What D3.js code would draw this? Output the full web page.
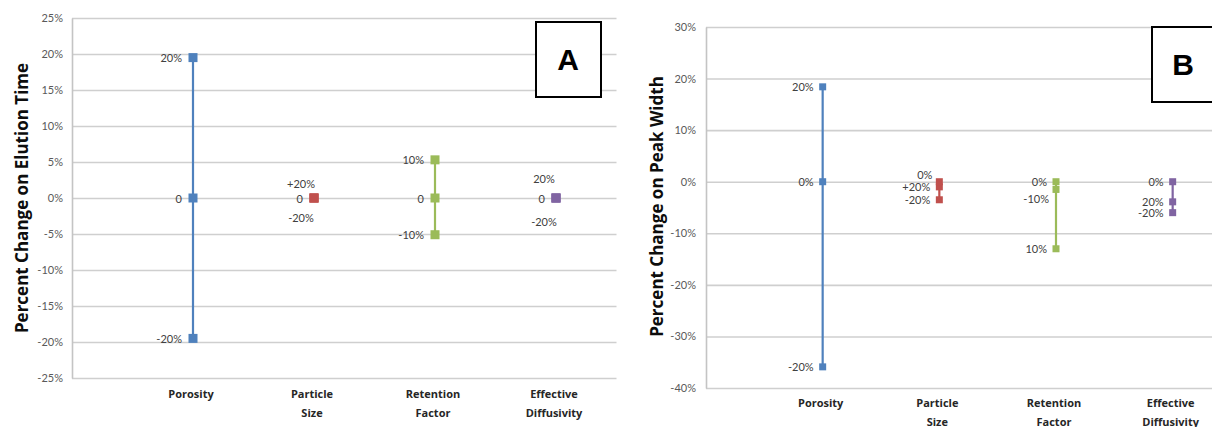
<!DOCTYPE html>
<html>
<head>
<meta charset="utf-8">
<script src="https://cdn.jsdelivr.net/npm/d3@7"></script>
<style>
  body { margin: 0; background: #fff; }
  svg { display: block; }
</style>
</head>
<body>
<svg id="chart" width="1212" height="427"></svg>
<script>
// Factors varied in the sensitivity study (one per x position)
const categoryLines = [["Porosity"], ["Particle", "Size"], ["Retention", "Factor"], ["Effective", "Diffusivity"]];
const seriesColors = ["#4F81BD", "#C0504D", "#9BBB59", "#8064A2"];

// Panel A: percent change on elution time
const elutionTicks = [25, 20, 15, 10, 5, 0, -5, -10, -15, -20, -25];
const elutionValues = [[19.5, 0, -19.5], [0, 0, 0], [5.3, 0, -5.1], [0, 0, 0]];
const elutionLabels = [["20%", "0", "-20%"], ["+20%", "0", "-20%"], ["10%", "0", "-10%"], ["20%", "0", "-20%"]];
const elutionLabelPlacement = [["L", "L", "L"], ["T", "L", "B"], ["L", "L", "L"], ["T2", "L", "B2"]];

// Panel B: percent change on peak width
const widthTicks = [30, 20, 10, 0, -10, -20, -30, -40];
const widthValues = [[18.4, 0, -35.9], [-1.0, 0, -3.5], [-13.0, 0, -1.5], [-3.9, 0, -6.0]];
const widthLabels = [["20%", "0%", "-20%"], ["+20%", "0%", "-20%"], ["10%", "0%", "-10%"], ["20%", "0%", "-20%"]];
const widthLabelPlacement = [["L", "L", "L"], ["L", "LT", "L"], ["L", "L", "LB"], ["L", "L", "L"]];

const svg = d3.select("#chart");
const FONT = "Lato, 'Open Sans', 'Liberation Sans', sans-serif";
const BOLD_FONT = "'Open Sans', 'Liberation Sans', sans-serif";

function drawPanel(cfg) {
  const g = svg.append("g");
  const x = d3.scaleLinear().domain([0, 4.5]).range(cfg.xRange);
  const y = d3.scaleLinear().domain(cfg.yDomain).range(cfg.yRange);
  const plotW = cfg.xRange[1] - cfg.xRange[0];

  // horizontal gridlines
  const grid = g.append("g")
    .attr("transform", `translate(${cfg.xRange[0]},0)`)
    .call(d3.axisLeft(y).tickValues(cfg.ticks).tickSize(-plotW).tickFormat(""));
  grid.select(".domain").remove();
  grid.selectAll("line").attr("stroke", "#cfcfcf").attr("stroke-width", 1.6);

  // value axis with tick labels
  const axis = g.append("g")
    .attr("transform", `translate(${cfg.xRange[0]},0)`)
    .call(d3.axisLeft(y).tickValues(cfg.ticks).tickSize(0).tickPadding(cfg.tickPad).tickFormat(d => d + "%"));
  axis.select(".domain").attr("stroke", "#c4c4c4").attr("stroke-width", 1.6);
  axis.selectAll("text")
    .attr("font-family", FONT).attr("font-size", 11).attr("fill", "#595959");

  // axis title
  const yMid = (cfg.yRange[0] + cfg.yRange[1]) / 2;
  g.append("text")
    .attr("transform", `translate(${cfg.titleX},${yMid + cfg.titleShift}) rotate(-90)`)
    .attr("text-anchor", "middle")
    .attr("dominant-baseline", "central")
    .attr("font-family", BOLD_FONT).attr("font-weight", 700).attr("font-size", 17)
    .attr("fill", "#0d0d0d")
    .text(cfg.title);

  // category labels
  categoryLines.forEach((lines, i) => {
    const t = g.append("text")
      .attr("text-anchor", "middle")
      .attr("font-family", BOLD_FONT).attr("font-weight", 700).attr("font-size", 11)
      .attr("fill", "#262626");
    lines.forEach((ln, k) => {
      t.append("tspan")
        .attr("x", x(i + 1) - 2)
        .attr("y", cfg.catY + k * 19)
        .attr("dominant-baseline", "central")
        .text(ln);
    });
  });

  // range lines and markers per factor
  cfg.values.forEach((vals, i) => {
    const color = seriesColors[i];
    const sorted = vals.slice().sort((a, b) => b - a);
    g.append("path")
      .attr("d", d3.line().x(() => x(i + 1)).y(v => y(v))(sorted))
      .attr("stroke", color).attr("stroke-width", 2.2).attr("fill", "none");
    const s = cfg.markerSize;
    g.selectAll(null).data(vals).enter().append("rect")
      .attr("x", x(i + 1) - s / 2)
      .attr("y", v => y(v) - s / 2)
      .attr("width", s).attr("height", s)
      .attr("fill", color);
    vals.forEach((v, k) => {
      const p = cfg.placement[cfg.labelPlace[i][k]];
      g.append("text")
        .attr("x", x(i + 1) + p[0])
        .attr("y", y(v) + p[1])
        .attr("text-anchor", p[2])
        .attr("dominant-baseline", "central")
        .attr("font-family", FONT).attr("font-size", 11).attr("fill", "#404040")
        .text(cfg.labels[i][k]);
    });
  });

  // panel tag box
  const b = cfg.box;
  g.append("rect")
    .attr("x", b.x).attr("y", b.y).attr("width", b.w).attr("height", b.h)
    .attr("fill", "#fff").attr("stroke", "#000").attr("stroke-width", 2);
  g.append("text")
    .attr("x", b.tx).attr("y", b.y + b.h / 2)
    .attr("text-anchor", "middle").attr("dominant-baseline", "central")
    .attr("font-family", "'Liberation Sans', Arial, sans-serif")
    .attr("font-weight", 700).attr("font-size", 30).attr("fill", "#000")
    .text(b.letter);
}

drawPanel({
  xRange: [72, 616.5],
  yDomain: [-25, 25],
  yRange: [378, 18],
  ticks: elutionTicks,
  tickPad: 9,
  title: "Percent Change on Elution Time",
  titleX: 21,
  titleShift: 0,
  catY: 393,
  markerSize: 9,
  values: elutionValues,
  labels: elutionLabels,
  labelPlace: elutionLabelPlacement,
  placement: {
    L: [-11, 0, "end"],
    T: [-13, -15, "middle"],
    B: [-13, 19, "middle"],
    T2: [-12, -20, "middle"],
    B2: [-12, 23, "middle"]
  },
  box: { x: 536, y: 22, w: 65, h: 75, tx: 568, letter: "A" }
});

drawPanel({
  xRange: [706, 1231],
  yDomain: [-40, 30],
  yRange: [388, 27],
  ticks: widthTicks,
  tickPad: 10,
  title: "Percent Change on Peak Width",
  titleX: 656,
  titleShift: -1,
  catY: 402,
  markerSize: 7,
  values: widthValues,
  labels: widthLabels,
  labelPlace: widthLabelPlacement,
  placement: {
    L: [-9, 0, "end"],
    LT: [-7, -7, "end"],
    LB: [-7, 9, "end"]
  },
  box: { x: 1152, y: 27, w: 90, h: 75, tx: 1183, letter: "B" }
});
</script>
</body>
</html>
